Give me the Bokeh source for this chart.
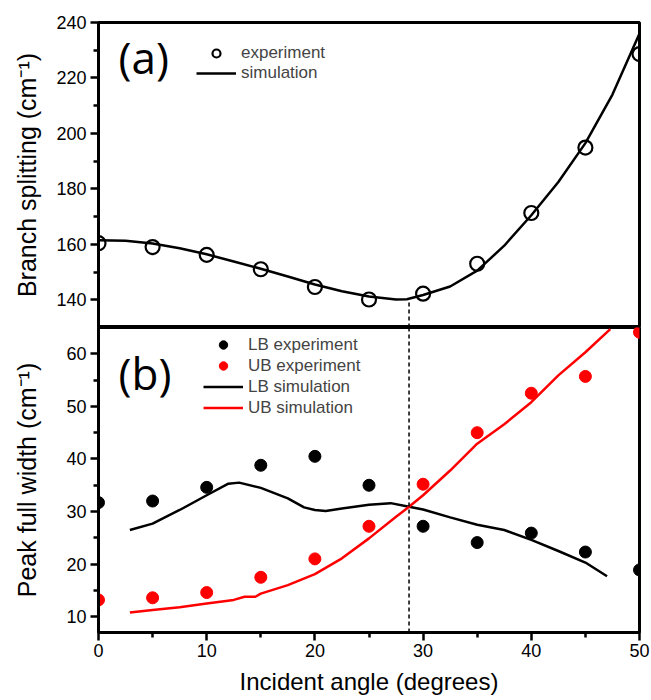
import numpy as np
from bokeh.plotting import figure
from bokeh.layouts import column
from bokeh.models import (Legend, LegendItem, Label, Span, Range1d, FixedTicker)
from bokeh.embed import file_html
from bokeh.resources import INLINE

# ---------------- data ----------------
angle = [0, 5, 10, 15, 20, 25, 30, 35, 40, 45, 50]

# (a) branch splitting
splitting_exp = [160.4, 159.0, 156.2, 151.0, 144.6, 140.1, 142.2, 153.0, 171.3, 194.9, 228.6]
sim_angle_a = [0, 2.5, 5, 7.5, 10, 12.5, 15, 17.5, 20, 22.5, 25, 27.5, 28.5,
               30, 32.5, 35, 37.5, 40, 42.5, 45, 47.5, 50]
splitting_sim = [161.5, 161.3, 160.3, 158.6, 156.4, 153.8, 151.2, 148.4, 145.5, 143.1,
                 141.2, 140.1, 140.2, 141.7, 144.8, 150.5, 159.5, 170.5, 182.5, 196.5,
                 214.0, 236.0]

# (b) peak full width
lb_exp = [31.7, 32.0, 34.6, 38.8, 40.5, 35.0, 27.2, 24.1, 25.9, 22.3, 18.9]
ub_exp = [13.2, 13.6, 14.6, 17.5, 21.0, 27.2, 35.2, 45.0, 52.5, 55.7, 64.1]

sim_angle_lb = [2.9, 5, 7.5, 10, 12, 13, 15, 17.5, 19, 20, 21, 22.5, 25, 27, 28.7,
                30, 32.5, 35, 37.5, 40, 42.5, 45, 47]
lb_sim = [26.5, 27.7, 30.3, 33.1, 35.3, 35.5, 34.5, 32.5, 30.8, 30.3, 30.1, 30.6, 31.3,
          31.6, 30.9, 30.4, 28.9, 27.5, 26.5, 24.6, 22.5, 20.3, 17.7]

sim_angle_ub = [2.9, 5, 7.5, 10, 12.5, 13.5, 14.5, 15, 17.5, 20, 22.5, 25, 27.5, 28.7,
                30, 32.5, 35, 37.5, 40, 42.5, 45, 47.3]
ub_sim = [10.8, 11.3, 11.8, 12.5, 13.2, 13.8, 13.8, 14.4, 16.0, 18.1, 21.1, 24.9, 29.0,
          30.9, 33.1, 37.8, 42.9, 46.6, 50.8, 55.9, 60.3, 64.7]

crossing_angle = 28.7
crossing_splitting = 140.0

x_major = [0, 10, 20, 30, 40, 50]
x_minor = [5, 15, 25, 35, 45]
ya_major = [140, 160, 180, 200, 220, 240]
ya_minor = [150, 170, 190, 210, 230]
yb_major = [10, 20, 30, 40, 50, 60]
yb_minor = [15, 25, 35, 45, 55]

RED = "#ff0000"
TICK_FONT = "Liberation Sans"
LABEL_FONT = "Liberation Sans"


def style_axis(ax, major, minor, standoff_label, label_standoff):
    ax.ticker = FixedTicker(ticks=major, minor_ticks=minor)
    ax.axis_line_width = 3
    ax.axis_line_color = "black"
    ax.major_tick_line_width = 2.5
    ax.minor_tick_line_width = 2.5
    ax.major_tick_in = 0
    ax.major_tick_out = 8
    ax.minor_tick_in = 0
    ax.minor_tick_out = 5
    ax.major_label_text_font = TICK_FONT
    ax.major_label_text_font_size = "18px"
    ax.major_label_text_color = "black"
    ax.major_label_standoff = standoff_label
    ax.axis_label_text_font = LABEL_FONT
    ax.axis_label_text_font_style = "normal"
    ax.axis_label_text_color = "black"
    ax.axis_label_standoff = label_standoff


# ---------------- panel (a) ----------------
p1 = figure(width=651, height=327, x_range=Range1d(0, 50), y_range=Range1d(130, 240),
            output_backend="svg", toolbar_location=None, x_axis_location=None,
            min_border_left=98, min_border_right=12, min_border_top=22, min_border_bottom=0)
p1.grid.visible = False
p1.outline_line_color = "black"
p1.outline_line_width = 3
p1.background_fill_color = "white"
p1.border_fill_color = "white"

ya = p1.yaxis[0]
style_axis(ya, ya_major, ya_minor, 4, 12)
ya.axis_label = "Branch splitting (cm\u207b\u00b9)"
ya.axis_label_text_font_size = "25px"

p1.segment(x0=[crossing_angle], y0=[130], x1=[crossing_angle], y1=[crossing_splitting],
           line_color="black", line_width=1.5, line_dash="4 3")
sim_a = p1.line(sim_angle_a, splitting_sim, line_color="black", line_width=2.5)
exp_a = p1.scatter(angle, splitting_exp, marker="circle", size=14, fill_color=None,
                   line_color="black", line_width=2.2)

leg1 = Legend(items=[LegendItem(label="experiment", renderers=[exp_a]),
                     LegendItem(label="simulation", renderers=[sim_a])],
              location=(98, 244), glyph_width=40, glyph_height=20, label_height=20,
              label_standoff=5, spacing=0, padding=0, margin=0,
              border_line_color=None, background_fill_alpha=0,
              label_text_font=LABEL_FONT, label_text_font_size="17px")
p1.add_layout(leg1)

p1.add_layout(Label(x=1.85, y=227.4, text="(a)", text_font="Open Sans",
                    text_font_size="44px", text_baseline="middle", text_color="black"))

# ---------------- panel (b) ----------------
p2 = figure(width=651, height=373, x_range=p1.x_range, y_range=Range1d(7, 65),
            output_backend="svg", toolbar_location=None,
            min_border_left=98, min_border_right=12, min_border_top=0, min_border_bottom=68)
p2.grid.visible = False
p2.outline_line_color = "black"
p2.outline_line_width = 3
p2.background_fill_color = "white"
p2.border_fill_color = "white"

yb = p2.yaxis[0]
style_axis(yb, yb_major, yb_minor, 4, 22)
yb.axis_label = "Peak full width (cm\u207b\u00b9)"
yb.axis_label_text_font_size = "25px"

xb = p2.xaxis[0]
style_axis(xb, x_major, x_minor, 3, 8)
xb.axis_label = "Incident angle (degrees)"
xb.axis_label_text_font_size = "24px"

p2.add_layout(Span(location=crossing_angle, dimension="height", line_color="black",
                   line_width=1.5, line_dash="4 3"))

lb_line = p2.line(sim_angle_lb, lb_sim, line_color="black", line_width=2.5)
ub_line = p2.line(sim_angle_ub, ub_sim, line_color=RED, line_width=2.5)
lb_pts = p2.scatter(angle, lb_exp, marker="circle", size=12, fill_color="black",
                    line_color="black")
ub_pts = p2.scatter(angle, ub_exp, marker="circle", size=12, fill_color=RED,
                    line_color=RED)

leg2 = Legend(items=[LegendItem(label="LB experiment", renderers=[lb_pts]),
                     LegendItem(label="UB experiment", renderers=[ub_pts]),
                     LegendItem(label="LB simulation", renderers=[lb_line]),
                     LegendItem(label="UB simulation", renderers=[ub_line])],
              location=(105, 214), glyph_width=40, glyph_height=21, label_height=21,
              label_standoff=5, spacing=0, padding=0, margin=0,
              border_line_color=None, background_fill_alpha=0,
              label_text_font=LABEL_FONT, label_text_font_size="17px")
p2.add_layout(leg2)

p2.add_layout(Label(x=1.85, y=56.4, text="(b)", text_font="Open Sans",
                    text_font_size="44px", text_baseline="middle", text_color="black"))

layout = column(p1, p2, spacing=0)

with open("out.html", "w") as f:
    f.write(file_html(layout, INLINE))
